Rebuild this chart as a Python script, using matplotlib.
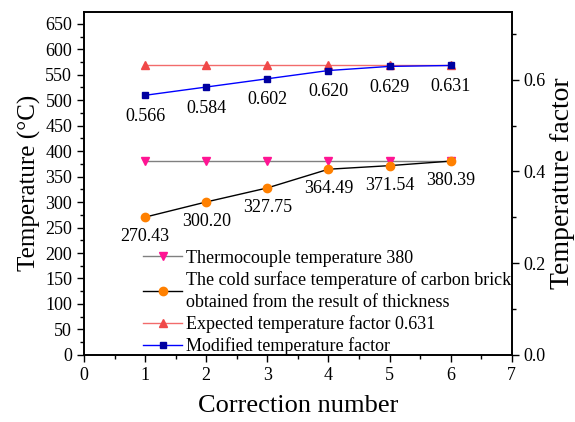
import matplotlib
matplotlib.use("Agg")
import matplotlib.pyplot as plt
from matplotlib.ticker import MultipleLocator, FormatStrFormatter

plt.rcParams['font.family'] = ['Liberation Serif', 'DejaVu Serif']

# correction steps and results
corrections = [1, 2, 3, 4, 5, 6]
thermocouple = [380, 380, 380, 380, 380, 380]
cold_surface = [270.43, 300.20, 327.75, 364.49, 371.54, 380.39]
expected_factor = [0.631, 0.631, 0.631, 0.631, 0.631, 0.631]
modified_factor = [0.566, 0.584, 0.602, 0.620, 0.629, 0.631]

fig = plt.figure(figsize=(5.75, 4.22), dpi=100)
ax = fig.add_axes([0.146, 0.159, 0.744, 0.813])
ax2 = ax.twinx()

l1, = ax.plot(corrections, thermocouple, color='#808080', lw=1.0,
              marker='v', ms=6, mfc='#FF1493', mec='#FF1493',
              label='Thermocouple temperature 380')
l2, = ax.plot(corrections, cold_surface, color='black', lw=1.0,
              marker='o', ms=6, mfc='#FF8000', mec='#FF8000',
              label='The cold surface temperature of carbon brick\nobtained from the result of thickness')
l3, = ax2.plot(corrections, expected_factor, color='#F26B6B', lw=1.0,
               marker='^', ms=6, mfc='#F04848', mec='#F04848',
               label='Expected temperature factor 0.631')
l4, = ax2.plot(corrections, modified_factor, color='#0000FF', lw=1.0,
               marker='s', ms=5, mfc='#0000A0', mec='#0000A0',
               label='Modified temperature factor')

# value labels under each point
for x, y in zip(corrections, cold_surface):
    ax.annotate(f'{y:.2f}', (x, y), xytext=(0, -8), textcoords='offset points',
                ha='center', va='top', fontsize=13)
for x, y in zip(corrections, modified_factor):
    ax2.annotate(f'{y:.3f}', (x, y), xytext=(0, -9), textcoords='offset points',
                 ha='center', va='top', fontsize=13)

ax.set_xlim(0, 7)
ax.set_ylim(0, 673.5)
ax2.set_ylim(0, 0.748)

ax.xaxis.set_major_locator(MultipleLocator(1))
ax.xaxis.set_minor_locator(MultipleLocator(0.5))
ax.yaxis.set_major_locator(MultipleLocator(50))
ax.yaxis.set_minor_locator(MultipleLocator(25))
ax2.yaxis.set_major_locator(MultipleLocator(0.2))
ax2.yaxis.set_minor_locator(MultipleLocator(0.1))
ax2.yaxis.set_major_formatter(FormatStrFormatter('%.1f'))

for a in (ax, ax2):
    a.tick_params(which='major', direction='out', length=5, width=1, labelsize=13)
    a.tick_params(which='minor', direction='out', length=3, width=1)
    for s in a.spines.values():
        s.set_linewidth(1.2)

ax.set_xlabel('Correction number', fontsize=19, labelpad=8)
ax.set_ylabel('Temperature (°C)', fontsize=18, labelpad=3)
ax2.set_ylabel('Temperature factor', fontsize=20, labelpad=3)

leg = ax.legend(handles=[l1, l2, l3, l4], loc='lower left', bbox_to_anchor=(0.112, -0.033),
                frameon=False, fontsize=13, handlelength=2.2, handletextpad=0.2,
                labelspacing=0.25, borderaxespad=0.2)
for t in leg.get_texts():
    t.set_linespacing(1.35)

fig.savefig('out.png', dpi=100)
